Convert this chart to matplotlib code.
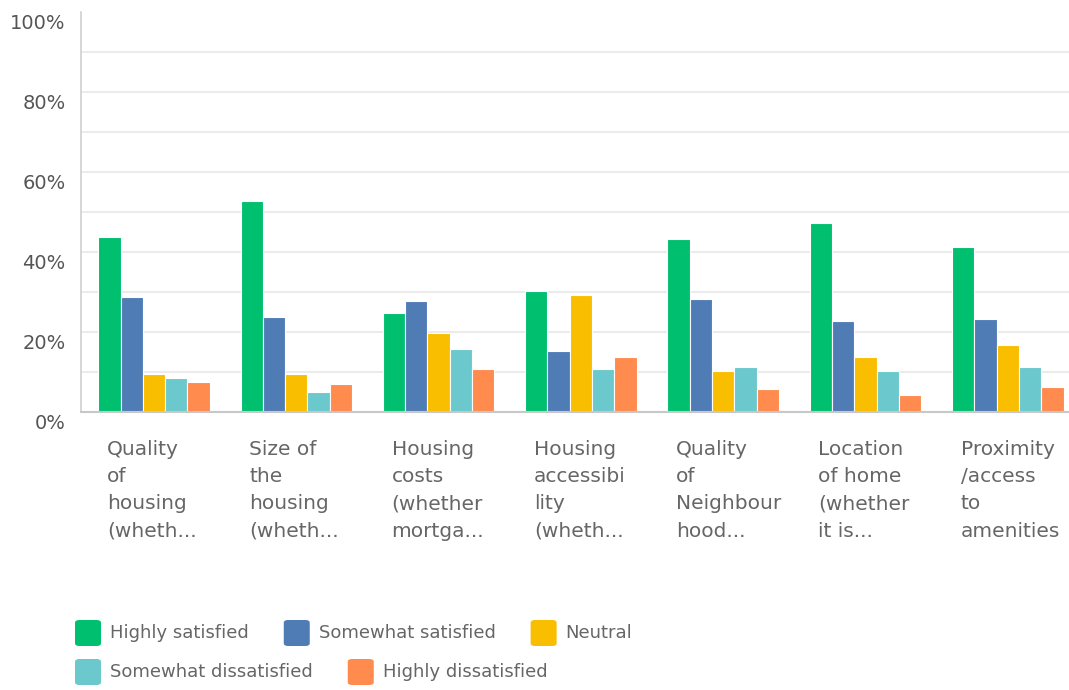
import numpy as np
import matplotlib
matplotlib.use('Agg')
import matplotlib.pyplot as plt
from matplotlib.patches import FancyBboxPatch
from matplotlib.transforms import ScaledTranslation

plt.rcParams['font.family'] = ['DejaVu Sans']

categories = [
	'Quality\nof\nhousing\n(wheth...',
	'Size of\nthe\nhousing\n(wheth...',
	'Housing\ncosts\n(whether\nmortga...',
	'Housing\naccessibi\nlity\n(wheth...',
	'Quality\nof\nNeighbour\nhood...',
	'Location\nof home\n(whether\nit is...',
	'Proximity\n/access\nto\namenities',
]
series_names = ['Highly satisfied', 'Somewhat satisfied', 'Neutral',
				'Somewhat dissatisfied', 'Highly dissatisfied']
highly_satisfied      = [43.7, 52.7, 24.7, 30.2, 43.2, 47.2, 41.2]
somewhat_satisfied    = [28.7, 23.7, 27.7, 15.2, 28.2, 22.7, 23.2]
neutral               = [9.6, 9.6, 19.7, 29.2, 10.2, 13.7, 16.7]
somewhat_dissatisfied = [8.6, 5.1, 15.7, 10.7, 11.2, 10.2, 11.2]
highly_dissatisfied   = [7.6, 7.1, 10.7, 13.7, 5.7, 4.2, 6.2]
colors = ['#00bf6f', '#507cb6', '#f9be00', '#6bc8cd', '#ff8b4f']

series = [highly_satisfied, somewhat_satisfied, neutral,
		  somewhat_dissatisfied, highly_dissatisfied]

W, H = 1069, 690
fig = plt.figure(figsize=(W / 100, H / 100), dpi=100)

# axes box in pixels: left 81, zero line at 412 from top, 100% at 12
ax = fig.add_axes([81 / W, (H - 412) / H, (W - 81) / W, 400 / H])

band = 142.3
x = np.arange(len(categories))
bw = 22.3 / band
for k, vals in enumerate(series):
	ax.bar(x + (k - 2) * bw, vals, width=bw, color=colors[k],
		   edgecolor='white', linewidth=0.8, zorder=3)

ax.set_xlim(-(154 - 81) / band, -(154 - 81) / band + (W - 81) / band)
ax.set_ylim(0, 100)

ax.set_yticks(np.arange(0, 101, 20))
ax.set_yticks(np.arange(10, 100, 20), minor=True)
ax.set_yticklabels([f'{v}%' for v in range(0, 101, 20)])
ax.grid(axis='y', which='both', color='#ebebeb', linewidth=1.5, zorder=0)
ax.yaxis.get_gridlines()[-1].set_visible(False)  # no line on top
ax.tick_params(axis='y', which='both', length=0, pad=11, labelsize=14, labelcolor='#555555')
for lab in ax.get_yticklabels():
	lab.set_transform(lab.get_transform() + ScaledTranslation(0, -7 / 72, fig.dpi_scale_trans))

ax.set_xticks(x)
ax.set_xticklabels(categories, ha='left', va='top', linespacing=1.55)
ax.tick_params(axis='x', length=0, pad=20, labelsize=14.5, labelcolor='#666666')
for lab in ax.get_xticklabels():
	lab.set_transform(lab.get_transform() + ScaledTranslation(-47 / 100, 0, fig.dpi_scale_trans))

for s in ['top', 'right']:
	ax.spines[s].set_visible(False)
ax.spines['left'].set_color('#d0d0d0')
ax.spines['left'].set_linewidth(1.2)
ax.spines['bottom'].set_color('#c8c8c8')
ax.spines['bottom'].set_linewidth(1.5)
ax.spines['bottom'].set_zorder(4)

# legend, flowing rows like the original
renderer = fig.canvas.get_renderer()
rows = [[0, 1, 2], [3, 4]]
row_y = [633, 672]
sq = 26
for r, items in enumerate(rows):
	px = 75
	for k in items:
		fig.patches.append(FancyBboxPatch(
			(px / W, (H - row_y[r] - sq / 2) / H), sq / W, sq / H,
			boxstyle='round,pad=0,rounding_size=0.004', transform=fig.transFigure,
			facecolor=colors[k], edgecolor='none'))
		t = fig.text((px + sq + 9) / W, (H - row_y[r]) / H, series_names[k],
					 fontsize=13, color='#666666', va='center', ha='left')
		px = px + sq + 9 + t.get_window_extent(renderer).width + 35

fig.savefig('out.png', dpi=100)
